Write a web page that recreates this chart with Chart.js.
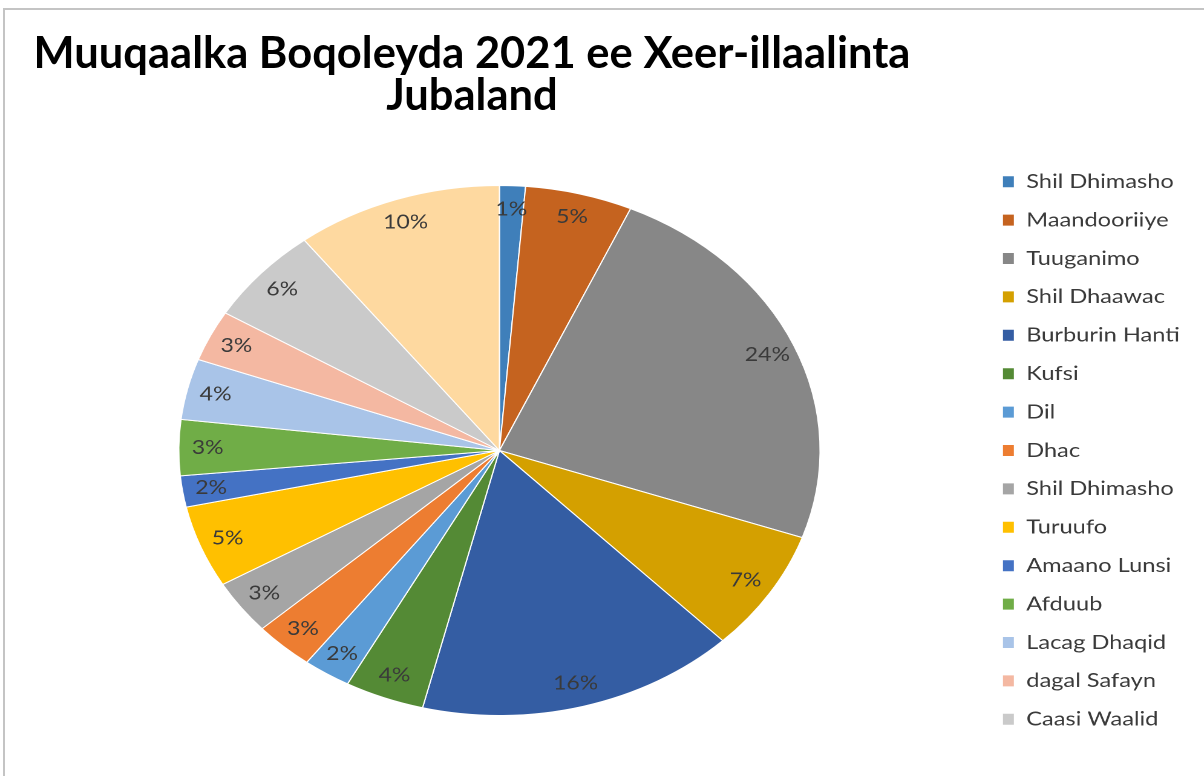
<!DOCTYPE html>
<html>
<head>
<meta charset="utf-8">
<title>Muuqaalka Boqoleyda 2021 ee Xeer-illaalinta Jubaland</title>
<script src="https://cdn.jsdelivr.net/npm/chart.js@4.4.0/dist/chart.umd.min.js"></script>
<style>
    html, body { margin: 0; padding: 0; background: #fff; }
    body { width: 1204px; height: 776px; position: relative; overflow: hidden; }
    #frame { position: absolute; left: 3px; top: 8px; width: 1300px; height: 900px;
             border-left: 2px solid #c4c4c4; border-top: 2px solid #c4c4c4; }
    #title { position: absolute; left: 0; top: 30px; width: 944px; text-align: center;
             font: bold 43.5px Lato, sans-serif; line-height: 42px; color: #000; }
    /* sawirka asalka ah wuu fidsan yahay: garaafka oo dhan ayaa la fidinayaa */
    #wrap { position: absolute; left: 0; top: 0; width: 995px; height: 776px;
            transform: scaleX(1.21); transform-origin: 0 0; }
</style>
</head>
<body>
<div id="frame"></div>
<div id="wrap"><canvas id="garaafka"></canvas></div>
<div id="title">Muuqaalka Boqoleyda 2021 ee Xeer-illaalinta<br>Jubaland</div>
<script>
// Qaybaha (categories) - kan ugu dambeeya legend-ka kuma muuqdo
const qaybaha = [
    'Shil Dhimasho', 'Maandooriiye', 'Tuuganimo', 'Shil Dhaawac', 'Burburin Hanti',
    'Kufsi', 'Dil', 'Dhac', 'Shil Dhimasho', 'Turuufo', 'Amaano Lunsi', 'Afduub',
    'Lacag Dhaqid', 'dagal Safayn', 'Caasi Waalid', 'Kale'
];

// Boqolleyda (laga akhriyey sawirka)
const boqolley = [1.3, 5.4, 23.6, 7.4, 16.1, 4.0, 2.4, 3.0, 3.3, 5.0, 1.9, 3.4, 3.7, 3.1, 5.9, 10.4];

const midabada = [
    '#3f7fba', '#c5631f', '#878787', '#d4a000', '#345da3', '#548a35', '#5b9bd5', '#ed7d31',
    '#a5a5a5', '#ffc000', '#4472c4', '#70ad47', '#a9c4e8', '#f4b8a2', '#cacaca', '#fed9a0'
];

const legendTiro = 15;

// Qoraalka boqolleyda ee gudaha goobada
const calaamadaha = {
    id: 'calaamadaha',
    afterDatasetsDraw(chart) {
        const ctx = chart.ctx;
        const meta = chart.getDatasetMeta(0);
        const wadar = boqolley.reduce((a, b) => a + b, 0);
        ctx.save();
        ctx.font = '19px Lato, sans-serif';
        ctx.fillStyle = '#3a3a3a';
        ctx.textAlign = 'center';
        ctx.textBaseline = 'middle';
        meta.data.forEach((arc, i) => {
            const { x, y, startAngle, endAngle, outerRadius } =
                arc.getProps(['x', 'y', 'startAngle', 'endAngle', 'outerRadius'], true);
            const dhex = (startAngle + endAngle) / 2;
            const r = outerRadius * 0.91;
            const qoraal = Math.round(boqolley[i] / wadar * 100) + '%';
            ctx.fillText(qoraal, x + Math.cos(dhex) * r, y + Math.sin(dhex) * r);
        });
        ctx.restore();
    }
};

const ctx = document.getElementById('garaafka').getContext('2d');
const garaaf = new Chart(ctx, {
    type: 'pie',
    data: {
        labels: qaybaha,
        datasets: [{
            data: boqolley,
            backgroundColor: midabada,
            borderColor: '#ffffff',
            borderWidth: 1,
            radius: 265
        }]
    },
    options: {
        responsive: true,
        maintainAspectRatio: false,
        animation: false,
        devicePixelRatio: 2,
        layout: {
            padding: { left: 16, right: 10, top: 125, bottom: 0 }
        },
        plugins: {
            title: { display: false },
            tooltip: { enabled: false },
            legend: {
                position: 'right',
                align: 'center',
                labels: {
                    boxWidth: 10,
                    boxHeight: 12,
                    padding: 18.9,
                    color: '#3a3a3a',
                    font: { family: 'Lato', size: 19.5 },
                    filter: (item) => item.index < legendTiro
                }
            }
        }
    },
    plugins: [calaamadaha]
});
</script>
</body>
</html>
